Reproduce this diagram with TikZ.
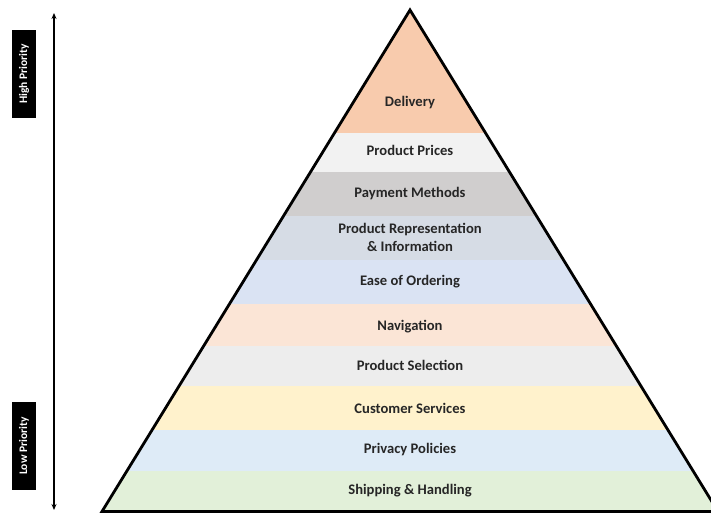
\documentclass[tikz,border=0pt]{standalone}
\usepackage{fontspec}
\setmainfont{Carlito}
\usetikzlibrary{arrows.meta}
\definecolor{cDel}{HTML}{F8CBAD}
\definecolor{cPri}{HTML}{F2F2F2}
\definecolor{cPay}{HTML}{D0CECE}
\definecolor{cRep}{HTML}{D6DCE5}
\definecolor{cEase}{HTML}{DAE3F3}
\definecolor{cNav}{HTML}{FBE5D6}
\definecolor{cSel}{HTML}{EDEDED}
\definecolor{cCus}{HTML}{FFF2CC}
\definecolor{cPriv}{HTML}{DEEBF7}
\definecolor{cShip}{HTML}{E2F0D9}
\definecolor{txt}{HTML}{262626}
\tikzset{
  lbl/.style={font=\bfseries\fontsize{14.6}{18}\selectfont, text=txt, align=center, inner sep=0pt, yshift=-1.5pt},
  prio/.style={fill=black, text=white, font=\bfseries\fontsize{11.5}{13}\selectfont, rotate=90,
    minimum width=88pt, minimum height=24pt, inner sep=0pt},
  outline/.style={draw=black, line width=2.8pt, line join=miter},
  axis/.style={draw=black, line width=1.3pt, {Stealth[length=6pt,width=5pt]}-{Stealth[length=6pt,width=5pt]}}
}
\begin{document}
\begin{tikzpicture}[x=1pt,y=-1pt]
\useasboundingbox (0,0) rectangle (711,514);
\clip (0,0) rectangle (711,514);
\coordinate (apex) at (410,10);
\coordinate (bl) at (102,511.5);
\coordinate (br) at (718,511.5);
\begin{scope}
  \clip (apex) -- (bl) -- (br) -- cycle;
  \fill[cDel]  (0,0)   rectangle (711,133);
  \fill[cPri]  (0,133) rectangle (711,172);
  \fill[cPay]  (0,172) rectangle (711,216);
  \fill[cRep]  (0,216) rectangle (711,260);
  \fill[cEase] (0,260) rectangle (711,304);
  \fill[cNav]  (0,304) rectangle (711,346);
  \fill[cSel]  (0,346) rectangle (711,386);
  \fill[cCus]  (0,386) rectangle (711,430);
  \fill[cPriv] (0,430) rectangle (711,471);
  \fill[cShip] (0,471) rectangle (711,514);
\end{scope}
\draw[outline] (apex) -- (bl) -- (br) -- cycle;
\node[lbl] (del)  at (410,101) {Delivery};
\node[lbl] (pri)  at (410,149) {Product Prices};
\node[lbl] (pay)  at (410,192) {Payment Methods};
\node[lbl] (rep)  at (410,236) {Product Representation\\\& Information};
\node[lbl] (ease) at (410,280) {Ease of Ordering};
\node[lbl] (nav)  at (410,325) {Navigation};
\node[lbl] (sel)  at (410,364) {Product Selection};
\node[lbl] (cus)  at (410,407) {Customer Services};
\node[lbl] (priv) at (410,448) {Privacy Policies};
\node[lbl] (ship) at (410,489) {Shipping \& Handling};
\coordinate (atop) at (54,13);
\coordinate (abot) at (54,510);
\draw[axis] (atop) -- (abot);
\node[prio] (high) at (24,74) {High Priority};
\node[prio] (low)  at (24,446) {Low Priority};
\end{tikzpicture}
\end{document}
